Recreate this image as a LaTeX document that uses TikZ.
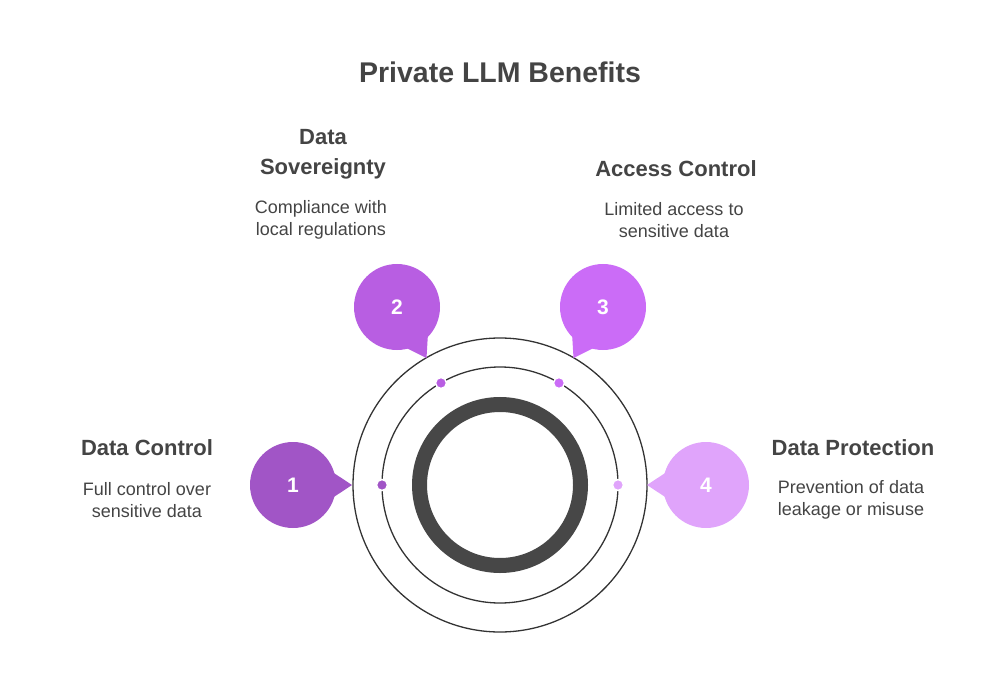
\documentclass[tikz,border=0pt]{standalone}
\usepackage{fontspec}
\setmainfont{Liberation Sans}
\usetikzlibrary{calc}
\definecolor{cA}{HTML}{A155C6}
\definecolor{cB}{HTML}{B85EE2}
\definecolor{cC}{HTML}{CB6CF7}
\definecolor{cD}{HTML}{E0A4FB}
\definecolor{txt}{HTML}{444444}
\definecolor{ring}{HTML}{474747}
\begin{document}
\begin{tikzpicture}[x=1pt,y=-1pt,
  title/.style={font=\bfseries\fontsize{28.5}{30}\selectfont,text=txt},
  head/.style={font=\bfseries\fontsize{22}{30}\selectfont,text=txt,align=center},
  body/.style={font=\fontsize{18}{22}\selectfont,text=txt,align=center},
  num/.style={circle,inner sep=0pt,minimum size=86pt,font=\bfseries\fontsize{21}{24}\selectfont,text=white},
  dot/.style={circle,inner sep=0pt,minimum size=11pt,draw=white,line width=1.5pt}]
\useasboundingbox (0,0) rectangle (1000,700);
\coordinate (c) at (500,485);
\draw[line width=1.3pt,black!80] (c) circle[radius=147];
\draw[line width=1.3pt,black!80] (c) circle[radius=118];
\draw[line width=15pt,ring] (c) circle[radius=80.5];
\node[dot,fill=cA] (d1) at (382,485) {};
\node[dot,fill=cB] (d2) at (441,383) {};
\node[dot,fill=cC] (d3) at (559,383) {};
\node[dot,fill=cD] (d4) at (618,485) {};
\newcommand{\bub}[5]{%
  \node[num,fill=#3] (#1) at (#2) {#5};
  \fill[#3] ($(#1.center)+(#4+19:41)$) -- ($(#1.center)+(#4:59)$) -- ($(#1.center)+(#4-19:41)$) -- cycle;}
\bub{b1}{293,485}{cA}{0}{1}
\bub{b2}{397,307}{cB}{60}{2}
\bub{b3}{603,307}{cC}{120}{3}
\bub{b4}{706,485}{cD}{180}{4}
\node[title] (t) at (500,72) {Private LLM Benefits};
\node[head] (h2) at (323,154) {Data\\Sovereignty};
\node[body] (p2) at (321,220) {Compliance with\\local regulations};
\node[head] (h3) at (676,169) {Access Control};
\node[body] (p3) at (674,220) {Limited access to\\sensitive data};
\node[head] (h1) at (147,448) {Data Control};
\node[body] (p1) at (147,500) {Full control over\\sensitive data};
\node[head] (h4) at (853,448) {Data Protection};
\node[body] (p4) at (851,500) {Prevention of data\\leakage or misuse};
\end{tikzpicture}
\end{document}
